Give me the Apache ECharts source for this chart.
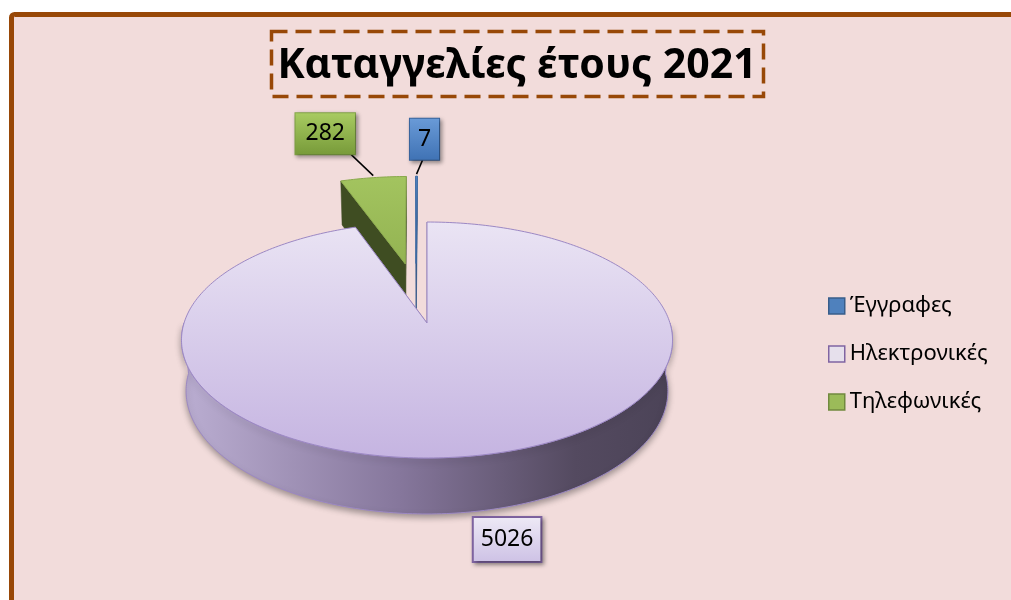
<!DOCTYPE html>
<html>
<head>
<meta charset="utf-8">
<title>Καταγγελίες έτους 2021</title>
<script src="https://cdn.jsdelivr.net/npm/echarts@6/dist/echarts.min.js"></script>
<style>
  html, body { margin: 0; padding: 0; background: #fff; }
  #chart { width: 1011px; height: 600px; }
</style>
</head>
<body>
<div id="chart"></div>
<script>
// data
const categories = ['Έγγραφες', 'Ηλεκτρονικές', 'Τηλεφωνικές']
const values = [7, 5026, 282]
const titleText = 'Καταγγελίες έτους 2021'

// look of each slice, same order as categories
const palette = [
  { top: ['#5B8DCB', '#4675B0'], side: '#2F5487', stroke: '#3B6AA5', label: ['#6A9BD8', '#3F72B4'], labelBorder: '#3A66A0' },
  { top: ['#EAE4F4', '#C5B4E1'], side: '#8A7AA0', stroke: '#9C88C4', label: ['#EEEAF6', '#CDC1E5'], labelBorder: '#8064A2' },
  { top: ['#A3C45F', '#93B352'], side: '#3F4D22', stroke: '#8AA94C', label: ['#A9CC62', '#779A39'], labelBorder: '#86A94A' }
]
// label offsets from the rim (px) and the level the anchor sits on
const labelPlace = [
  { dx: 8, dy: -37, bottom: false, leader: true, pad: [9, 8, 9, 8] },
  { dx: 33, dy: 28, bottom: true, leader: false, pad: [10, 7, 10, 7] },
  { dx: -48, dy: -44, bottom: false, leader: true, pad: [9, 10, 9, 10] }
]

// simple perspective for the 3d look
const VIEW = {
  cx: 427, cy: 323, f: 1484, dist: 6.108,
  sin: 0.4755, cos: 0.8797, depth: 0.241, explode: 0.28, startDeg: -0.47
}

const rad = d => d * Math.PI / 180

function project(x, y, z) {
  const d = VIEW.dist + z * VIEW.cos - y * VIEW.sin
  return [VIEW.cx + VIEW.f * x / d, VIEW.cy - VIEW.f * (y * VIEW.cos + z * VIEW.sin) / d]
}

function sliceAngles() {
  const total = values.reduce((a, b) => a + b, 0)
  let a = VIEW.startDeg
  return values.map(v => {
    const s = a
    a += v / total * 360
    return [s, a]
  })
}

function renderSlice(i) {
  return function(params, api) {
    const angles = sliceAngles()
    const [a0, a1] = angles[i]
    const big = angles[1]
    const pm = rad((big[0] + big[1]) / 2)
    const mid = rad((a0 + a1) / 2)
    const e = VIEW.explode
    const ox = e * (Math.sin(mid) - Math.sin(pm))
    const oz = e * (Math.cos(mid) - Math.cos(pm))
    const h = -VIEW.depth
    const rim = (deg, y) => project(ox + Math.sin(rad(deg)), y, oz + Math.cos(rad(deg)))
    const centre = y => project(ox, y, oz)
    const arc = (from, to, y) => {
      const n = Math.max(2, Math.ceil(Math.abs(to - from)))
      const pts = []
      for (let k = 0; k <= n; k++) pts.push(rim(from + (to - from) * k / n, y))
      return pts
    }
    const pal = palette[i]
    const children = []

    // radial cut faces
    ;[a0, a1].forEach(deg => {
      children.push({
        type: 'polygon',
        shape: { points: [centre(0), rim(deg, 0), rim(deg, h), centre(h)] },
        style: { fill: pal.side, stroke: pal.side, lineWidth: 0.5 }
      })
    })

    // outer wall, front half only
    const lo = Math.max(a0, 90)
    const hi = Math.min(a1, 270)
    if (hi > lo) {
      const pts = arc(lo, hi, 0).concat(arc(hi, lo, h))
      children.push({
        type: 'polygon',
        shape: { points: pts },
        style: {
          fill: new echarts.graphic.LinearGradient(0, 0, 1, 0, [
            { offset: 0, color: '#BBAED2' },
            { offset: 0.45, color: '#85769B' },
            { offset: 0.8, color: '#544A60' },
            { offset: 1, color: '#4B4357' }
          ]),
          stroke: '#9C88C4',
          lineWidth: 1,
          shadowBlur: 6,
          shadowOffsetY: 3,
          shadowColor: 'rgba(0,0,0,0.35)'
        }
      })
    }

    // top face
    children.push({
      type: 'polygon',
      shape: { points: [centre(0)].concat(arc(a0, a1, 0)) },
      style: {
        fill: new echarts.graphic.LinearGradient(0, 0, 0, 1, [
          { offset: 0, color: pal.top[0] },
          { offset: 1, color: pal.top[1] }
        ]),
        stroke: pal.stroke,
        lineWidth: 1
      }
    })

    // data label
    const place = labelPlace[i]
    const midDeg = (a0 + a1) / 2
    const anchor = rim(midDeg, place.bottom ? h : 0)
    const lx = anchor[0] + place.dx
    const ly = anchor[1] + place.dy
    if (place.leader) {
      const tx = place.dx < 0 ? lx + 26 : lx - 2
      children.push({
        type: 'line',
        shape: { x1: anchor[0], y1: anchor[1] - 2, x2: tx, y2: ly + 21 },
        style: { stroke: '#000', lineWidth: 1.5 }
      })
    }
    children.push({
      type: 'text',
      x: lx,
      y: ly,
      style: {
        text: String(api.value(0)),
        font: '23px "Noto Sans"',
        fill: '#000',
        align: 'center',
        verticalAlign: 'middle',
        backgroundColor: new echarts.graphic.LinearGradient(0, 0, 0, 1, [
          { offset: 0, color: pal.label[0] },
          { offset: 1, color: pal.label[1] }
        ]),
        borderColor: pal.labelBorder,
        borderWidth: i === 1 ? 2 : 1,
        padding: place.pad,
        shadowBlur: 4,
        shadowOffsetX: 2,
        shadowOffsetY: 2,
        shadowColor: 'rgba(0,0,0,0.35)'
      }
    })

    return { type: 'group', children: children }
  }
}

const chart = echarts.init(document.getElementById('chart'), null, { renderer: 'canvas' })

const drawOrder = [2, 0, 1]  // back slices first

chart.setOption({
  animation: false,
  backgroundColor: '#fff',
  graphic: [
    {
      type: 'rect',
      z: -10,
      shape: { x: 11.5, y: 14.5, width: 1011, height: 600, r: 3 },
      style: { fill: '#F2DCDB', stroke: '#984807', lineWidth: 5 }
    },
    {
      type: 'rect',
      z: -5,
      shape: { x: 271.5, y: 31.5, width: 492, height: 65 },
      style: { fill: 'none', stroke: '#984807', lineWidth: 3.5, lineDash: [16, 8] }
    },
    {
      type: 'text',
      z: -5,
      x: 517,
      y: 66,
      style: {
        text: titleText,
        font: 'bold 41px "Noto Sans"',
        fill: '#000',
        align: 'center',
        verticalAlign: 'middle'
      }
    }
  ],
  legend: {
    orient: 'vertical',
    left: 823,
    top: 290,
    icon: 'rect',
    itemWidth: 16,
    itemHeight: 16,
    itemGap: 26,
    textStyle: { fontFamily: 'Noto Sans', fontSize: 22, color: '#000', lineHeight: 22 },
    data: [
      { name: categories[0], itemStyle: { color: '#4F81BD', borderColor: '#385D8A', borderWidth: 1.5 } },
      { name: categories[1], itemStyle: { color: '#E6E0EC', borderColor: '#8064A2', borderWidth: 1.5 } },
      { name: categories[2], itemStyle: { color: '#9BBB59', borderColor: '#71893F', borderWidth: 1.5 } }
    ]
  },
  series: drawOrder.map((i, k) => ({
    type: 'custom',
    name: categories[i],
    coordinateSystem: 'none',
    silent: true,
    z: 2 + k,
    itemStyle: { color: palette[i].top[1] },
    renderItem: renderSlice(i),
    data: [{ name: categories[i], value: [values[i]] }]
  }))
})
</script>
</body>
</html>
